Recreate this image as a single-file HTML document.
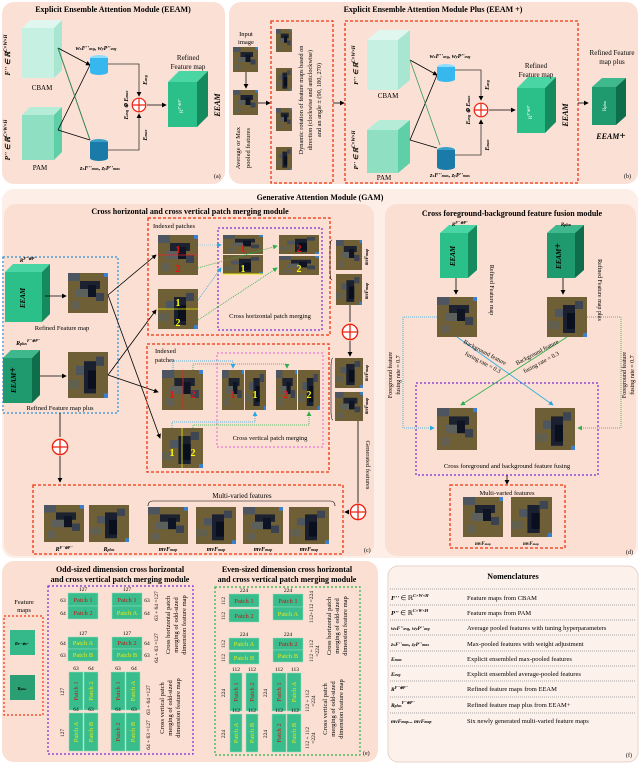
<!DOCTYPE html>
<html><head><meta charset="utf-8"><style>
html,body{margin:0;padding:0;background:#fff;}
svg{display:block;font-family:"Liberation Serif",serif;}
.t{font-weight:bold;font-size:8px;text-anchor:middle;}
.s{font-size:7px;}
.it{font-style:italic;font-weight:bold;}
</style></head><body>
<svg width="640" height="764" viewBox="0 0 640 764" xmlns="http://www.w3.org/2000/svg">
<defs>
<symbol id="img" viewBox="0 0 10 10" preserveAspectRatio="none">
<rect width="10" height="10" fill="#6e5f36"/>
<rect x="0" y="0" width="3" height="2" fill="#4c5560"/>
<rect x="3" y="2" width="5" height="2" fill="#1d2230"/>
<rect x="5" y="3" width="2" height="3" fill="#0e1424"/>
<rect x="2" y="4" width="3" height="2" fill="#566068" opacity=".8"/>
<rect x="7" y="5" width="2" height="2" fill="#3a4252"/>
<rect x="9" y="0" width="1" height="1" fill="#3b7fd0"/>
<rect x="1" y="7" width="2" height="2" fill="#5a6166" opacity=".6"/>
</symbol>
<symbol id="img2" viewBox="0 0 10 10" preserveAspectRatio="none">
<rect width="10" height="10" fill="#6e5f36"/>
<rect x="4" y="2" width="3" height="7" fill="#1a2030"/>
<rect x="5" y="4" width="2" height="4" fill="#0a0f1d"/>
<rect x="2" y="3" width="2" height="2" fill="#4d5661"/>
<rect x="7" y="1" width="2" height="2" fill="#3e4654"/>
<rect x="9" y="9" width="1" height="1" fill="#3b7fd0"/>
<rect x="0" y="6" width="3" height="2" fill="#59605f" opacity=".6"/>
</symbol>
<symbol id="plus" viewBox="-10 -10 20 20"><circle r="8.5" fill="#fff" stroke="#e21" stroke-width="1.5"/><path d="M-8.5 0H8.5M0 -8.5V8.5" stroke="#e21" stroke-width="1.5"/></symbol>
<marker id="ar" markerWidth="6" markerHeight="6" refX="5" refY="3" orient="auto"><path d="M0,0L6,3L0,6z" fill="#000"/></marker>
<marker id="ab" markerWidth="6" markerHeight="6" refX="5" refY="3" orient="auto"><path d="M0,0L6,3L0,6z" fill="#29a8e0"/></marker>
<marker id="ag" markerWidth="6" markerHeight="6" refX="5" refY="3" orient="auto"><path d="M0,0L6,3L0,6z" fill="#2bb04a"/></marker>
</defs>

<!-- panel backgrounds -->
<rect x="2" y="2" width="223" height="182" rx="12" fill="#fbe1d5"/>
<rect x="229" y="2" width="409" height="182" rx="12" fill="#fbe1d5"/>
<rect x="2" y="189" width="636" height="369" rx="12" fill="#fdeee7"/>
<rect x="4" y="204" width="370" height="352" rx="12" fill="#fbdfd2"/>
<rect x="385" y="204" width="251" height="352" rx="12" fill="#fbdfd2"/>
<rect x="2" y="561" width="376" height="201" rx="12" fill="#fbdfd2"/>
<rect x="388" y="566" width="250" height="196" rx="10" fill="#fdf1ec" stroke="#e8d2c8"/>

<!-- ===== (a) ===== -->
<text class="t" x="113" y="12">Explicit Ensemble Attention Module (EEAM)</text>
<polygon points="22,28 30,20 62,20 54,28" fill="#dff7ef"/><rect x="22" y="28" width="32" height="50" fill="#c6f0e2"/><polygon points="54,28 62,20 62,70 54,78" fill="#a8e6d2"/>
<text x="42" y="90" class="s" text-anchor="middle" font-size="7">CBAM</text>
<text x="10" y="55" font-size="7" transform="rotate(-90 10 55)" text-anchor="middle" class="it">F'' ∈ ℝ<tspan font-size="5" dy="-3">C×W×H</tspan></text>
<polygon points="22,115 30,107 62,107 54,115" fill="#b4ecd8"/><rect x="22" y="115" width="32" height="45" fill="#8fe0c3"/><polygon points="54,115 62,107 62,152 54,160" fill="#5fcfa8"/>
<text x="40" y="170" font-size="7" text-anchor="middle">PAM</text>
<text x="10" y="140" font-size="7" transform="rotate(-90 10 140)" text-anchor="middle" class="it">P'' ∈ ℝ<tspan font-size="5" dy="-3">C×W×H</tspan></text>
<g stroke="#000" stroke-width=".8" fill="none"><path d="M58,48L90,65" marker-end="url(#ar)"/><path d="M58,130L90,65"/><path d="M58,130L90,140"/><path d="M58,48L90,140"/></g>
<path d="M58,48L90,140" stroke="#3a9a5c" stroke-width=".8"/>
<ellipse cx="99" cy="58" rx="9" ry="3" fill="#8fdcff"/><rect x="90" y="58" width="18" height="14" fill="#36b8ef"/><ellipse cx="99" cy="72" rx="9" ry="3" fill="#36b8ef"/>
<ellipse cx="99" cy="142" rx="9" ry="3" fill="#3aa0c8"/><rect x="90" y="142" width="18" height="16" fill="#1b7ba8"/><ellipse cx="99" cy="158" rx="9" ry="3" fill="#1b7ba8"/>
<text x="96" y="50" font-size="6" text-anchor="middle" class="it">w<tspan font-size="4">x</tspan>F''<tspan font-size="4">avg</tspan>, w<tspan font-size="4">y</tspan>P''<tspan font-size="4">avg</tspan></text>
<text x="100" y="170" font-size="6" text-anchor="middle" class="it">z<tspan font-size="4">x</tspan>F''<tspan font-size="4">max</tspan>, z<tspan font-size="4">y</tspan>P''<tspan font-size="4">max</tspan></text>
<path d="M108,64H139V96" stroke="#333" fill="none" stroke-width=".8" marker-end="url(#ar)"/>
<path d="M108,150H139V114" stroke="#333" fill="none" stroke-width=".8" marker-end="url(#ar)"/>
<use href="#plus" x="131" y="97" width="16" height="16"/>
<path d="M147,105H166" stroke="#000" stroke-width=".8" marker-end="url(#ar)"/>
<text x="147" y="80" font-size="6" transform="rotate(-90 147 80)" text-anchor="middle" class="it">E<tspan font-size="4">avg</tspan></text>
<text x="147" y="135" font-size="6" transform="rotate(-90 147 135)" text-anchor="middle" class="it">E<tspan font-size="4">max</tspan></text>
<text x="128" y="105" font-size="6" transform="rotate(-90 128 105)" text-anchor="middle" class="it">E<tspan font-size="4">avg</tspan> ⊕ E<tspan font-size="4">max</tspan></text>
<polygon points="168,82 179,71 208,71 197,82" fill="#4ad6a4"/><rect x="168" y="82" width="29" height="45" fill="#2bbf8a"/><polygon points="197,82 208,71 208,116 197,127" fill="#148a5e"/>
<text x="183" y="106" font-size="5" transform="rotate(-90 183 106)" text-anchor="middle" fill="#fff">R<tspan font-size="4" dy="-2">F''⊕P''</tspan></text>
<text x="188" y="60" font-size="7" text-anchor="middle">Refined</text><text x="188" y="69" font-size="7" text-anchor="middle">Feature map</text>
<text x="220" y="105" font-size="8" transform="rotate(-90 220 105)" text-anchor="middle" class="it">EEAM</text>
<text x="214" y="178" font-size="6">(a)</text>

<!-- ===== (b) ===== -->
<text class="t" x="433" y="12">Explicit Ensemble Attention Module Plus (EEAM +)</text>
<text x="246" y="36" font-size="6.5" text-anchor="middle">Input</text><text x="246" y="44" font-size="6.5" text-anchor="middle">image</text>
<use href="#img" x="233" y="47" width="25" height="25"/>
<path d="M246,72V88" stroke="#000" stroke-width=".8" marker-end="url(#ar)"/>
<use href="#img" x="233" y="90" width="25" height="25"/>
<path d="M258,103H270" stroke="#000" stroke-width=".8" marker-end="url(#ar)"/>
<text x="240" y="148" font-size="6.5" transform="rotate(-90 240 148)" text-anchor="middle">Average or Max</text>
<text x="250" y="148" font-size="6.5" transform="rotate(-90 250 148)" text-anchor="middle">pooled features</text>
<rect x="271" y="21" width="62" height="162" fill="none" stroke="#e31" stroke-width="1.3" stroke-dasharray="3,2"/>
<use href="#img" x="276" y="29" width="16" height="23"/><use href="#img2" x="276" y="68" width="16" height="23"/><use href="#img" x="276" y="108" width="16" height="23"/><use href="#img2" x="276" y="147" width="16" height="23"/>
<text x="303" y="100" font-size="6.3" transform="rotate(-90 303 100)" text-anchor="middle">Dynamic rotation of feature maps based on</text>
<text x="312" y="100" font-size="6.3" transform="rotate(-90 312 100)" text-anchor="middle">direction    (clockwise  and  anticlockwise)</text>
<text x="321" y="100" font-size="6.3" transform="rotate(-90 321 100)" text-anchor="middle">and an angle  ± (90, 180, 270)</text>
<path d="M333,103H344" stroke="#000" stroke-width=".8" marker-end="url(#ar)"/>
<rect x="345" y="21" width="233" height="162" fill="none" stroke="#e31" stroke-width="1.3" stroke-dasharray="3,2"/>
<polygon points="367,40 379,30 410,30 398,40" fill="#dff7ef"/><rect x="367" y="40" width="31" height="50" fill="#c6f0e2"/><polygon points="398,40 410,30 410,80 398,90" fill="#a8e6d2"/>
<text x="388" y="98" font-size="7" text-anchor="middle">CBAM</text>
<text x="358" y="65" font-size="6.5" transform="rotate(-90 358 65)" text-anchor="middle" class="it">F'' ∈ ℝ<tspan font-size="5" dy="-3">C×W×H</tspan></text>
<polygon points="367,130 379,120 410,120 398,130" fill="#b4ecd8"/><rect x="367" y="130" width="31" height="43" fill="#8fe0c3"/><polygon points="398,130 410,120 410,163 398,173" fill="#5fcfa8"/>
<text x="384" y="180" font-size="7" text-anchor="middle">PAM</text>
<text x="358" y="150" font-size="6.5" transform="rotate(-90 358 150)" text-anchor="middle" class="it">P'' ∈ ℝ<tspan font-size="5" dy="-3">C×W×H</tspan></text>
<g stroke="#000" stroke-width=".8" fill="none"><path d="M410,60L437,75" marker-end="url(#ar)"/><path d="M410,140L437,75"/><path d="M410,140L437,148"/></g>
<path d="M410,60L440,145" stroke="#3a9a5c" stroke-width=".8"/>
<ellipse cx="446" cy="67" rx="9" ry="3" fill="#8fdcff"/><rect x="437" y="67" width="18" height="12" fill="#36b8ef"/><ellipse cx="446" cy="79" rx="9" ry="3" fill="#36b8ef"/>
<ellipse cx="446" cy="150" rx="9" ry="3" fill="#3aa0c8"/><rect x="437" y="150" width="18" height="17" fill="#1b7ba8"/><ellipse cx="446" cy="167" rx="9" ry="3" fill="#1b7ba8"/>
<text x="450" y="58" font-size="6" text-anchor="middle" class="it">w<tspan font-size="4">x</tspan>F''<tspan font-size="4">avg</tspan>, w<tspan font-size="4">y</tspan>P''<tspan font-size="4">avg</tspan></text>
<text x="450" y="177" font-size="6" text-anchor="middle" class="it">z<tspan font-size="4">x</tspan>F''<tspan font-size="4">max</tspan>, z<tspan font-size="4">y</tspan>P''<tspan font-size="4">max</tspan></text>
<path d="M455,70H481V100" stroke="#333" fill="none" stroke-width=".8" marker-end="url(#ar)"/>
<path d="M455,155H481V120" stroke="#333" fill="none" stroke-width=".8" marker-end="url(#ar)"/>
<use href="#plus" x="473" y="102" width="16" height="16"/>
<path d="M489,110H515" stroke="#000" stroke-width=".8" marker-end="url(#ar)"/>
<text x="489" y="85" font-size="6" transform="rotate(-90 489 85)" text-anchor="middle" class="it">E<tspan font-size="4">avg</tspan></text>
<text x="489" y="145" font-size="6" transform="rotate(-90 489 145)" text-anchor="middle" class="it">E<tspan font-size="4">max</tspan></text>
<text x="470" y="110" font-size="6" transform="rotate(-90 470 110)" text-anchor="middle" class="it">E<tspan font-size="4">avg</tspan> ⊕ E<tspan font-size="4">max</tspan></text>
<polygon points="517,88 528,77 556,77 545,88" fill="#4ad6a4"/><rect x="517" y="88" width="28" height="45" fill="#2bbf8a"/><polygon points="545,88 556,77 556,122 545,133" fill="#148a5e"/>
<text x="532" y="112" font-size="5" transform="rotate(-90 532 112)" text-anchor="middle" fill="#fff">R<tspan font-size="4" dy="-2">F''⊕P''</tspan></text>
<text x="536" y="68" font-size="7" text-anchor="middle">Refined</text><text x="536" y="77" font-size="7" text-anchor="middle">Feature map</text>
<text x="568" y="115" font-size="8" transform="rotate(-90 568 115)" text-anchor="middle" class="it">EEAM</text>
<path d="M578,103H588" stroke="#000" stroke-width=".8" marker-end="url(#ar)"/>
<polygon points="592,87 602,78 626,78 616,87" fill="#3fb88e"/><rect x="592" y="87" width="24" height="38" fill="#1f9a6e"/><polygon points="616,87 626,78 626,116 616,125" fill="#0e6e4c"/>
<text x="606" y="106" font-size="5" transform="rotate(-90 606 106)" text-anchor="middle" fill="#fff">R<tspan font-size="4">plus</tspan></text>
<text x="612" y="55" font-size="7" text-anchor="middle">Refined Feature</text><text x="612" y="64" font-size="7" text-anchor="middle">map plus</text>
<text x="611" y="139" font-size="8" text-anchor="middle" class="it">EEAM<tspan font-size="11" font-style="normal">+</tspan></text>
<text x="624" y="178" font-size="6">(b)</text>

<!-- ===== GAM ===== -->
<text class="t" x="320" y="200" font-size="8.5">Generative Attention Module (GAM)</text>
<text class="t" x="190" y="214">Cross horizontal and cross vertical patch merging module</text>
<rect x="3" y="257" width="115" height="156" fill="none" stroke="#2b8fd8" stroke-width="1.2" stroke-dasharray="2,2"/>
<polygon points="5,272 13,264 50,264 42,272" fill="#4ad6a4"/><rect x="5" y="272" width="37" height="50" fill="#2bbf8a"/><polygon points="42,272 50,264 50,314 42,322" fill="#148a5e"/>
<text x="25" y="298" font-size="7" transform="rotate(-90 25 298)" text-anchor="middle" class="it">EEAM</text>
<text x="28" y="262" font-size="5.5" text-anchor="middle" class="it">R<tspan font-size="4" dy="-2">F''⊕P''</tspan></text>
<path d="M45,296H66" stroke="#000" stroke-width=".8" marker-end="url(#ar)"/>
<use href="#img" x="68" y="273" width="40" height="40"/>
<text x="62" y="330" font-size="6.5" text-anchor="middle">Refined Feature map</text>
<text x="28" y="345" font-size="6" text-anchor="middle" class="it">R<tspan font-size="4">plus</tspan><tspan font-size="4" dy="-3">F''⊕P''</tspan></text>
<polygon points="3,358 11,350 40,350 32,358" fill="#3fb88e"/><rect x="3" y="358" width="29" height="45" fill="#1f9a6e"/><polygon points="32,358 40,350 40,395 32,403" fill="#0e6e4c"/>
<text x="16" y="380" font-size="7" transform="rotate(-90 16 380)" text-anchor="middle" class="it">EEAM<tspan font-size="10" font-style="normal">+</tspan></text>
<path d="M40,376H66" stroke="#000" stroke-width=".8" marker-end="url(#ar)"/>
<use href="#img2" x="68" y="352" width="40" height="46"/>
<text x="60" y="410" font-size="6.5" text-anchor="middle">Refined Feature map plus</text>
<g stroke="#000" stroke-width=".8" fill="none"><path d="M108,295L156,255" marker-end="url(#ar)"/><path d="M108,295L160,438" marker-end="url(#ar)"/><path d="M108,375L156,310" marker-end="url(#ar)"/><path d="M108,375L158,392" marker-end="url(#ar)"/></g>
<path d="M60,413V437" stroke="#000" stroke-width=".8"/><use href="#plus" x="51" y="438" width="18" height="18"/><path d="M60,456V482" stroke="#000" stroke-width=".8" marker-end="url(#ar)"/>

<!-- horizontal merging -->
<rect x="148" y="218" width="182" height="117" fill="none" stroke="#e31" stroke-width="1.3" stroke-dasharray="3,2"/>
<text x="153" y="228" font-size="6.5">Indexed patches</text>
<use href="#img" x="158" y="235" width="40" height="40"/><path d="M158,255H198" stroke="#e22" stroke-width=".8"/>
<text x="178" y="253" font-size="10" fill="#e11" font-weight="bold" text-anchor="middle">1</text><text x="178" y="272" font-size="10" fill="#e11" font-weight="bold" text-anchor="middle">2</text>
<use href="#img2" x="158" y="289" width="40" height="40"/><path d="M158,309H198" stroke="#ee0" stroke-width=".8"/>
<text x="178" y="306" font-size="10" fill="#ff0" font-weight="bold" text-anchor="middle">1</text><text x="178" y="326" font-size="10" fill="#ff0" font-weight="bold" text-anchor="middle">2</text>
<rect x="218" y="228" width="104" height="102" fill="none" stroke="#7b2ad8" stroke-width="1.2" stroke-dasharray="2,2"/>
<use href="#img" x="223" y="235" width="40" height="19"/><use href="#img2" x="223" y="255" width="40" height="19"/><path d="M223,274H263" stroke="#ee0"/>
<text x="243" y="252" font-size="10" fill="#e11" font-weight="bold" text-anchor="middle">1</text><text x="243" y="272" font-size="10" fill="#ff0" font-weight="bold" text-anchor="middle">1</text>
<use href="#img2" x="279" y="235" width="40" height="19"/><use href="#img" x="279" y="256" width="40" height="19"/>
<text x="299" y="252" font-size="10" fill="#e11" font-weight="bold" text-anchor="middle">2</text><text x="299" y="272" font-size="10" fill="#ff0" font-weight="bold" text-anchor="middle">2</text>
<path d="M198,245H221" stroke="#8fd0e8" stroke-width=".8" stroke-dasharray="1,1" marker-end="url(#ab)"/>
<path d="M198,268L277,246" stroke="#2bb04a" stroke-width=".8" stroke-dasharray="1,1" marker-end="url(#ag)"/>
<path d="M198,300L221,268" stroke="#29a8e0" stroke-width=".8" stroke-dasharray="1,1" marker-end="url(#ab)"/>
<path d="M198,320L277,268" stroke="#2bb04a" stroke-width=".8" stroke-dasharray="1,1" marker-end="url(#ag)"/>
<text x="270" y="318" font-size="6.5" text-anchor="middle">Cross horizontal patch merging</text>
<path d="M332,240Q330,240 330,250V270Q330,280 332,280" stroke="#000" fill="none" stroke-width=".6"/>
<use href="#img" x="336" y="240" width="26" height="30"/><use href="#img2" x="336" y="274" width="26" height="31"/>
<text x="368" y="257" font-size="5" transform="rotate(-90 368 257)" text-anchor="middle" class="it">mvF<tspan font-size="4">map</tspan></text>
<text x="368" y="291" font-size="5" transform="rotate(-90 368 291)" text-anchor="middle" class="it">mvF<tspan font-size="4">map</tspan></text>
<path d="M350,305V322" stroke="#000" stroke-width=".8"/><use href="#plus" x="341" y="323" width="18" height="18"/><path d="M350,341V356" stroke="#000" stroke-width=".8" marker-end="url(#ar)"/>

<!-- vertical merging -->
<rect x="147" y="344" width="182" height="128" fill="none" stroke="#e31" stroke-width="1.3" stroke-dasharray="3,2"/>
<text x="155" y="353" font-size="6.5">Indexed</text><text x="155" y="362" font-size="6.5">patches</text>
<use href="#img" x="162" y="370" width="41" height="40"/><path d="M183,370V410" stroke="#e22" stroke-width=".8"/>
<text x="172" y="398" font-size="10" fill="#e11" font-weight="bold" text-anchor="middle">1</text><text x="193" y="398" font-size="10" fill="#e11" font-weight="bold" text-anchor="middle">2</text>
<use href="#img2" x="162" y="428" width="41" height="40"/><path d="M182,428V468" stroke="#ee0" stroke-width=".8"/>
<text x="172" y="456" font-size="10" fill="#ff0" font-weight="bold" text-anchor="middle">1</text><text x="193" y="456" font-size="10" fill="#ff0" font-weight="bold" text-anchor="middle">2</text>
<rect x="217" y="353" width="106" height="94" fill="none" stroke="#e879d8" stroke-width="1.2" stroke-dasharray="2,2"/>
<use href="#img" x="222" y="370" width="22" height="40"/><use href="#img2" x="245" y="370" width="21" height="40"/>
<text x="233" y="398" font-size="10" fill="#e11" font-weight="bold" text-anchor="middle">1</text><text x="255" y="398" font-size="10" fill="#ff0" font-weight="bold" text-anchor="middle">1</text>
<use href="#img" x="276" y="370" width="21" height="40"/><use href="#img2" x="298" y="370" width="22" height="40"/>
<text x="286" y="398" font-size="10" fill="#e11" font-weight="bold" text-anchor="middle">2</text><text x="309" y="398" font-size="10" fill="#ff0" font-weight="bold" text-anchor="middle">2</text>
<path d="M173,370V361H233V368" stroke="#29a8e0" fill="none" stroke-width=".8" stroke-dasharray="1,1" marker-end="url(#ab)"/>
<path d="M193,370V364H287V368" stroke="#2bb04a" fill="none" stroke-width=".8" stroke-dasharray="1,1" marker-end="url(#ag)"/>
<path d="M172,428V422H255V412" stroke="#29a8e0" fill="none" stroke-width=".8" stroke-dasharray="1,1" marker-end="url(#ab)"/>
<path d="M193,428V425H309V412" stroke="#2bb04a" fill="none" stroke-width=".8" stroke-dasharray="1,1" marker-end="url(#ag)"/>
<text x="270" y="440" font-size="6.5" text-anchor="middle">Cross vertical patch merging</text>
<path d="M333,358Q331,358 331,368V410Q331,420 333,420" stroke="#000" fill="none" stroke-width=".6"/>
<use href="#img2" x="335" y="358" width="28" height="30"/><use href="#img" x="335" y="392" width="28" height="29"/>
<text x="368" y="373" font-size="5" transform="rotate(-90 368 373)" text-anchor="middle" class="it">mvF<tspan font-size="4">map</tspan></text>
<text x="368" y="406" font-size="5" transform="rotate(-90 368 406)" text-anchor="middle" class="it">mvF<tspan font-size="4">map</tspan></text>
<path d="M358,421V503" stroke="#000" stroke-width=".8"/>
<text x="366" y="465" font-size="6.5" transform="rotate(90 366 465)" text-anchor="middle">Generated  features</text>
<use href="#plus" x="349" y="503" width="18" height="18"/>
<path d="M349,512H345" stroke="#000" stroke-width=".8" marker-end="url(#ar)"/>

<!-- multi-varied (c) -->
<rect x="33" y="485" width="310" height="69" fill="none" stroke="#e31" stroke-width="1.3" stroke-dasharray="3,2"/>
<text x="242" y="498" font-size="7" text-anchor="middle">Multi-varied features</text>
<path d="M148,506Q148,501 153,501H330Q335,501 335,506" stroke="#000" fill="none" stroke-width=".6"/>
<use href="#img" x="44" y="505" width="40" height="37"/><use href="#img2" x="89" y="505" width="40" height="37"/>
<use href="#img" x="148" y="507" width="40" height="37"/><use href="#img2" x="196" y="507" width="40" height="37"/><use href="#img" x="243" y="507" width="40" height="37"/><use href="#img2" x="289" y="507" width="40" height="37"/>
<g font-size="6" text-anchor="middle" class="it"><text x="64" y="551">R<tspan font-size="4" dy="-2">F''⊕P''</tspan></text><text x="109" y="551">R<tspan font-size="4">plus</tspan></text>
<text x="168" y="551">mvF<tspan font-size="4">map</tspan></text><text x="216" y="551">mvF<tspan font-size="4">map</tspan></text><text x="263" y="551">mvF<tspan font-size="4">map</tspan></text><text x="309" y="551">mvF<tspan font-size="4">map</tspan></text></g>
<text x="364" y="552" font-size="6">(c)</text>

<!-- ===== (d) ===== -->
<text class="t" x="512" y="216">Cross foreground-background feature fusion module</text>
<polygon points="440,233 449,225 477,225 468,233" fill="#4ad6a4"/><rect x="440" y="233" width="28" height="45" fill="#2bbf8a"/><polygon points="468,233 477,225 477,270 468,278" fill="#148a5e"/>
<text x="455" y="256" font-size="7" transform="rotate(-90 455 256)" text-anchor="middle" class="it">EEAM</text>
<text x="460" y="226" font-size="5" text-anchor="middle" class="it">R<tspan font-size="4" dy="-2">F''⊕P''</tspan></text>
<polygon points="547,233 556,225 584,225 575,233" fill="#3fb88e"/><rect x="547" y="233" width="28" height="45" fill="#1f9a6e"/><polygon points="575,233 584,225 584,270 575,278" fill="#0e6e4c"/>
<text x="561" y="256" font-size="7" transform="rotate(-90 561 256)" text-anchor="middle" class="it">EEAM<tspan font-size="10" font-style="normal">+</tspan></text>
<text x="566" y="226" font-size="5" text-anchor="middle" class="it">R<tspan font-size="4">plus</tspan></text>
<path d="M456,278V294" stroke="#000" stroke-width=".8" marker-end="url(#ar)"/><path d="M563,278V294" stroke="#000" stroke-width=".8" marker-end="url(#ar)"/>
<use href="#img" x="437" y="297" width="40" height="40"/><use href="#img2" x="547" y="297" width="40" height="40"/>
<text x="490" y="290" font-size="6" transform="rotate(90 490 290)" text-anchor="middle">Refined Feature map</text>
<text x="598" y="290" font-size="6" transform="rotate(90 598 290)" text-anchor="middle">Refined Feature map plus</text>
<path d="M437,317H403V428H434" stroke="#29a8e0" fill="none" stroke-width=".8" stroke-dasharray="1,1" marker-end="url(#ab)"/>
<path d="M587,317H621V428H578" stroke="#2bb04a" fill="none" stroke-width=".8" stroke-dasharray="1,1" marker-end="url(#ag)"/>
<path d="M457,337L553,405" stroke="#29a8e0" stroke-width=".8" marker-end="url(#ab)"/>
<path d="M567,337L461,405" stroke="#2bb04a" stroke-width=".8" marker-end="url(#ag)"/>
<text x="484" y="354" font-size="6" transform="rotate(28 484 354)" text-anchor="middle">Background feature</text><text x="482" y="364" font-size="6" transform="rotate(28 482 364)" text-anchor="middle">fusing rate = 0.3</text>
<text x="538" y="354" font-size="6" transform="rotate(-28 538 354)" text-anchor="middle">Background feature</text><text x="542" y="364" font-size="6" transform="rotate(-28 542 364)" text-anchor="middle">fusing rate = 0.3</text>
<text x="392" y="375" font-size="6" transform="rotate(-90 392 375)" text-anchor="middle">Foreground feature</text><text x="400" y="375" font-size="6" transform="rotate(-90 400 375)" text-anchor="middle">fusing rate = 0.7</text>
<text x="626" y="375" font-size="6" transform="rotate(-90 626 375)" text-anchor="middle">Foreground feature</text><text x="634" y="375" font-size="6" transform="rotate(-90 634 375)" text-anchor="middle">fusing rate = 0.7</text>
<rect x="416" y="383" width="182" height="92" fill="none" stroke="#7b2ad8" stroke-width="1.2" stroke-dasharray="2,2"/>
<use href="#img" x="437" y="408" width="40" height="42"/><use href="#img2" x="535" y="408" width="40" height="42"/>
<text x="507" y="468" font-size="6.5" text-anchor="middle">Cross foreground and background feature fusing</text>
<path d="M507,475V484" stroke="#000" stroke-width=".8" marker-end="url(#ar)"/>
<rect x="450" y="485" width="115" height="63" fill="none" stroke="#e31" stroke-width="1.3" stroke-dasharray="3,2"/>
<text x="507" y="495" font-size="6.5" text-anchor="middle">Multi-varied features</text>
<use href="#img" x="463" y="497" width="40" height="40"/><use href="#img2" x="511" y="497" width="41" height="40"/>
<text x="483" y="545" font-size="5" text-anchor="middle" class="it">mvF<tspan font-size="3.5">map</tspan></text><text x="531" y="545" font-size="5" text-anchor="middle" class="it">mvF<tspan font-size="3.5">map</tspan></text>
<text x="626" y="554" font-size="6">(d)</text>

<!-- ===== (e) ===== -->
<text class="t" x="120" y="572">Odd-sized dimension cross horizontal</text>
<text class="t" x="120" y="582">and cross vertical patch merging module</text>
<text class="t" x="287" y="572">Even-sized dimension cross horizontal</text>
<text class="t" x="287" y="582">and cross vertical patch merging module</text>
<text x="24" y="604" font-size="6.5" text-anchor="middle">Feature</text><text x="24" y="612" font-size="6.5" text-anchor="middle">maps</text>
<rect x="4" y="616" width="39" height="99" fill="none" stroke="#e31" stroke-width="1.2" stroke-dasharray="2,2"/>
<rect x="10" y="630" width="25" height="25" fill="#35b98a"/><rect x="10" y="675" width="25" height="25" fill="#2a9f74"/>
<text x="22" y="645" font-size="4.5" text-anchor="middle" class="it">R<tspan font-size="3.5">F''⊕P''</tspan></text>
<text x="22" y="690" font-size="4.5" text-anchor="middle" class="it">R<tspan font-size="3.5">plus</tspan></text>
<rect x="48" y="586" width="145" height="168" fill="none" stroke="#7b2ad8" stroke-width="1.2" stroke-dasharray="2,2"/>
<rect x="215" y="587" width="145" height="168" fill="none" stroke="#2bb04a" stroke-width="1.2" stroke-dasharray="2,2"/>

<g id="odd" font-size="6.5" text-anchor="middle">
<g fill="#39bd8c" stroke="#8fe0c3" stroke-width=".5">
<rect x="68" y="593" width="30" height="13"/><rect x="68" y="606" width="30" height="13"/>
<rect x="112" y="593" width="30" height="13"/><rect x="112" y="606" width="30" height="13"/>
<rect x="68" y="637" width="30" height="12"/><rect x="68" y="649" width="30" height="12"/>
<rect x="112" y="637" width="30" height="12"/><rect x="112" y="649" width="30" height="12"/>
<rect x="69" y="672" width="14" height="38"/><rect x="84" y="672" width="14" height="38"/>
<rect x="111" y="672" width="14" height="38"/><rect x="126" y="672" width="14" height="38"/>
<rect x="69" y="713" width="14" height="38"/><rect x="84" y="713" width="14" height="38"/>
<rect x="111" y="713" width="14" height="38"/><rect x="126" y="713" width="14" height="38"/>
</g>
<text x="83" y="602" fill="#c0161b">Patch 1</text><text x="83" y="615" fill="#c0161b">Patch 2</text>
<text x="127" y="602" fill="#c0161b">Patch 1</text><text x="127" y="615" fill="#e8e81a">Patch A</text>
<text x="83" y="645" fill="#e8e81a">Patch A</text><text x="83" y="657" fill="#e8e81a">Patch B</text>
<text x="127" y="645" fill="#c0161b">Patch 2</text><text x="127" y="657" fill="#e8e81a">Patch B</text>
<text transform="translate(78,691) rotate(-90)" fill="#c0161b">Patch 1</text><text transform="translate(93,691) rotate(-90)" fill="#e8e81a">Patch 2</text>
<text transform="translate(120,691) rotate(-90)" fill="#c0161b">Patch 1</text><text transform="translate(135,691) rotate(-90)" fill="#e8e81a">Patch A</text>
<text transform="translate(78,732) rotate(-90)" fill="#e8e81a">Patch A</text><text transform="translate(93,732) rotate(-90)" fill="#e8e81a">Patch B</text>
<text transform="translate(120,732) rotate(-90)" fill="#c0161b">Patch 2</text><text transform="translate(135,732) rotate(-90)" fill="#e8e81a">Patch B</text>
<g font-size="5.5" fill="#000"><text x="83" y="591">127</text><text x="127" y="591">127</text><text x="83" y="635">127</text><text x="127" y="635">127</text>
<text x="63" y="602">63</text><text x="63" y="615">64</text><text x="63" y="645">64</text><text x="63" y="657">63</text>
<text x="147" y="602">63</text><text x="147" y="615">64</text><text x="147" y="645">64</text><text x="147" y="657">63</text>
<text x="76" y="670">63</text><text x="91" y="670">64</text><text x="118" y="670">63</text><text x="134" y="670">64</text>
<text x="76" y="711">64</text><text x="91" y="711">63</text><text x="118" y="711">64</text><text x="134" y="711">63</text>
<text transform="translate(64,692) rotate(-90)">127</text><text transform="translate(64,733) rotate(-90)">127</text>
<text transform="translate(158,606) rotate(-90)">63 + 64 =127</text><text transform="translate(158,648) rotate(-90)">64 + 63 =127</text>
<text transform="translate(150,700) rotate(-90)">63 + 64 =127</text><text transform="translate(150,735) rotate(-90)">64 + 63 =127</text></g>
<g font-size="6.5" fill="#000"><text transform="translate(170,625) rotate(-90)">Cross horizontal patch</text><text transform="translate(178,625) rotate(-90)">merging of odd-sized</text><text transform="translate(186,625) rotate(-90)">dimension feature map</text>
<text transform="translate(164,708) rotate(-90)">Cross vertical patch</text><text transform="translate(172,708) rotate(-90)">merging of odd-sized</text><text transform="translate(180,708) rotate(-90)">dimension feature map</text></g>
</g>
<g transform="translate(161,1)" font-size="6.5" text-anchor="middle">
<g fill="#39bd8c" stroke="#8fe0c3" stroke-width=".5">
<rect x="68" y="593" width="30" height="13"/><rect x="68" y="608" width="30" height="13"/>
<rect x="112" y="593" width="30" height="13"/><rect x="112" y="606" width="30" height="13"/>
<rect x="68" y="637" width="30" height="12"/><rect x="68" y="651" width="30" height="12"/>
<rect x="112" y="637" width="30" height="12"/><rect x="112" y="649" width="30" height="12"/>
<rect x="69" y="672" width="12" height="38"/><rect x="85" y="672" width="12" height="38"/>
<rect x="111" y="672" width="14" height="38"/><rect x="126" y="672" width="14" height="38"/>
<rect x="69" y="713" width="12" height="38"/><rect x="85" y="713" width="12" height="38"/>
<rect x="111" y="713" width="14" height="38"/><rect x="126" y="713" width="14" height="38"/>
</g>
<text x="83" y="602" fill="#c0161b">Patch 1</text><text x="83" y="617" fill="#c0161b">Patch 2</text>
<text x="127" y="602" fill="#c0161b">Patch 1</text><text x="127" y="615" fill="#e8e81a">Patch A</text>
<text x="83" y="645" fill="#e8e81a">Patch A</text><text x="83" y="659" fill="#e8e81a">Patch B</text>
<text x="127" y="645" fill="#c0161b">Patch 2</text><text x="127" y="657" fill="#e8e81a">Patch B</text>
<text transform="translate(77,691) rotate(-90)" fill="#c0161b">Patch 1</text><text transform="translate(93,691) rotate(-90)" fill="#c0161b">Patch 2</text>
<text transform="translate(120,691) rotate(-90)" fill="#c0161b">Patch 1</text><text transform="translate(135,691) rotate(-90)" fill="#e8e81a">Patch A</text>
<text transform="translate(77,732) rotate(-90)" fill="#e8e81a">Patch A</text><text transform="translate(93,732) rotate(-90)" fill="#e8e81a">Patch B</text>
<text transform="translate(120,732) rotate(-90)" fill="#c0161b">Patch 2</text><text transform="translate(135,732) rotate(-90)" fill="#e8e81a">Patch B</text>
<g font-size="5.5" fill="#000"><text x="83" y="591">224</text><text x="127" y="591">224</text><text x="83" y="635">224</text><text x="127" y="635">224</text>
<text transform="translate(64,600) rotate(-90)">112</text><text transform="translate(64,615) rotate(-90)">112</text><text transform="translate(64,643) rotate(-90)">112</text><text transform="translate(64,657) rotate(-90)">112</text>
<text x="75" y="670">112</text><text x="91" y="670">112</text><text x="118" y="670">112</text><text x="134" y="670">113</text>
<text x="75" y="711">112</text><text x="91" y="711">112</text><text x="118" y="711">112</text><text x="134" y="711">112</text>
<text transform="translate(64,692) rotate(-90)">224</text><text transform="translate(64,733) rotate(-90)">224</text><text transform="translate(106,692) rotate(-90)">224</text><text transform="translate(106,733) rotate(-90)">224</text>
<text transform="translate(152,606) rotate(-90)">112+112 =224</text><text transform="translate(152,650) rotate(-90)">112 + 112</text><text transform="translate(158,650) rotate(-90)">=224</text>
<text transform="translate(148,700) rotate(-90)">112 + 112</text><text transform="translate(154,700) rotate(-90)">=224</text><text transform="translate(148,737) rotate(-90)">112 + 112</text><text transform="translate(154,737) rotate(-90)">=224</text></g>
<g font-size="6.5" fill="#000"><text transform="translate(170,625) rotate(-90)">Cross horizontal patch</text><text transform="translate(178,625) rotate(-90)">merging of odd-sized</text><text transform="translate(186,625) rotate(-90)">dimension feature map</text>
<text transform="translate(166,708) rotate(-90)">Cross vertical patch</text><text transform="translate(174,708) rotate(-90)">merging of odd-sized</text><text transform="translate(182,708) rotate(-90)">dimension feature map</text></g>
</g>
<text x="363" y="755" font-size="6">(e)</text>

<!-- ===== (f) ===== -->
<text class="t" x="513" y="579">Nomenclatures</text>
<g stroke="#555" stroke-width=".6" stroke-dasharray="1,1">
<path d="M390,589H636"/><path d="M390,605H636"/><path d="M390,620H636"/><path d="M390,635H636"/><path d="M390,651H636"/><path d="M390,666H636"/><path d="M390,681H636"/><path d="M390,697H636"/><path d="M390,713H636"/>
</g>
<g font-size="6.5">
<text x="391" y="600" class="it">F'' <tspan font-weight="normal" font-style="normal">∈ ℝ</tspan><tspan font-size="4.5" dy="-3">C×W×H</tspan></text><text x="467" y="600">Feature maps from CBAM</text>
<text x="391" y="615" class="it">P'' <tspan font-weight="normal" font-style="normal">∈ ℝ</tspan><tspan font-size="4.5" dy="-3">C×W×H</tspan></text><text x="467" y="615">Feature maps from PAM</text>
<text x="391" y="630" class="it" font-size="5.5">w<tspan font-size="4">x</tspan>F''<tspan font-size="4">avg</tspan>, w<tspan font-size="4">y</tspan>P''<tspan font-size="4">avg</tspan></text><text x="467" y="630">Average pooled features with tuning hyperparameters</text>
<text x="391" y="646" class="it" font-size="5.5">z<tspan font-size="4">x</tspan>F''<tspan font-size="4">max</tspan>, z<tspan font-size="4">y</tspan>P''<tspan font-size="4">max</tspan></text><text x="467" y="646">Max-pooled features with weight adjustment</text>
<text x="391" y="661" class="it" font-size="5.5">E<tspan font-size="4">max</tspan></text><text x="467" y="661">Explicit ensembled max-pooled features</text>
<text x="391" y="676" class="it" font-size="5.5">E<tspan font-size="4">avg</tspan></text><text x="467" y="676">Explicit ensembled average-pooled features</text>
<text x="391" y="691" class="it" font-size="5.5">R<tspan font-size="4" dy="-2">F''⊕P''</tspan></text><text x="467" y="691">Refined feature maps from EEAM</text>
<text x="391" y="707" class="it" font-size="5.5">R<tspan font-size="4">plus</tspan><tspan font-size="4" dy="-3">F''⊕P''</tspan></text><text x="467" y="707">Refined feature map plus from EEAM+</text>
<text x="391" y="723" class="it" font-size="5.5">mvF<tspan font-size="4">map</tspan>... mvF<tspan font-size="4">map</tspan></text><text x="467" y="723">Six newly generated multi-varied feature maps</text>
</g>
<text x="626" y="757" font-size="6">(f)</text>
</svg>
</body></html>
